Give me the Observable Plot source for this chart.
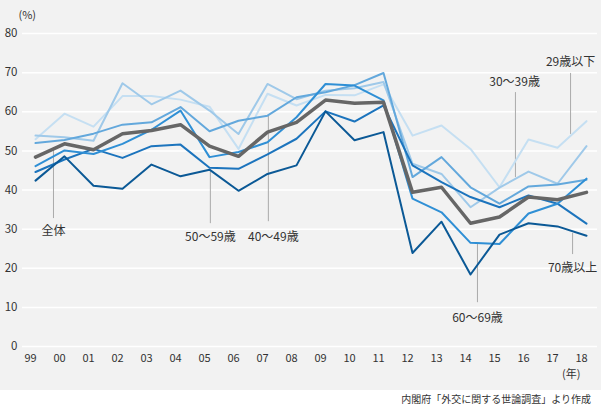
<!DOCTYPE html>
<html><head><meta charset="utf-8">
<script src="https://cdn.jsdelivr.net/npm/d3@7"></script>
<script src="https://cdn.jsdelivr.net/npm/@observablehq/plot@0.6"></script>
<style>
body{margin:0;background:#fff;font-family:"Noto Sans CJK JP","Noto Sans",sans-serif;}
#cap{width:601px;text-align:right;font-size:10px;color:#333;line-height:18px;padding-right:10px;box-sizing:border-box;}
</style></head>
<body><div id="chart"></div><div id="cap">内閣府「外交に関する世論調査」より作成</div>
<script>
const years = ["99","00","01","02","03","04","05","06","07","08","09","10","11","12","13","14","15","16","17","18"];
const seriesNames = ["29歳以下","30〜39歳","40〜49歳","50〜59歳","60〜69歳","70歳以上","全体"];
const seriesColors = ["#c5dff2","#9fc9e9","#63a8dc","#1c74bd","#2f8fd5","#0b5996","#666666"];
const v29 = [53.0,59.5,56.2,64.0,64.0,63.1,61.3,50.5,64.6,61.6,64.3,64.2,67.0,53.9,56.5,50.5,40.7,52.9,50.8,57.6];
const v30 = [53.9,53.5,52.6,67.3,61.9,65.4,60.3,54.3,67.1,63.2,65.4,66.0,67.6,46.7,44.1,35.6,40.6,44.7,41.6,51.2];
const v40 = [52.0,52.8,54.4,56.7,57.3,61.2,55.0,57.7,59.0,63.7,65.0,66.8,69.9,43.3,48.4,40.7,36.5,40.9,41.4,42.6];
const v50 = [44.6,47.8,50.5,48.2,51.2,51.6,45.7,45.4,49.1,53.1,60.1,57.5,61.6,46.3,42.0,38.2,35.6,38.6,36.5,31.4];
const v60 = [46.1,50.1,49.2,51.8,55.4,60.3,48.4,49.7,52.2,58.6,67.1,66.7,62.9,37.8,34.3,26.5,26.2,34.0,36.5,42.9];
const v70 = [42.4,48.6,41.1,40.3,46.5,43.5,45.2,39.8,44.1,46.3,60.1,52.7,54.8,23.9,31.9,18.4,28.6,31.5,30.7,28.3];
const vAll = [48.4,51.8,50.3,54.4,55.2,56.7,51.2,48.6,54.8,57.3,63.0,62.2,62.4,39.4,40.7,31.5,33.1,38.2,37.5,39.4];
const seriesValues = [v29,v30,v40,v50,v60,v70,vAll];
const yTicks = [0,10,20,30,40,50,60,70,80];

// annotations (data units: x = year index, y = percent)
const annLabels = ["全体","50〜59歳","40〜49歳","30〜39歳","29歳以下","70歳以上","60〜69歳"];
const annX      = [0.62, 6.03, 8.03, 16.55, 18.45, 18.52, 15.24];
const annTextX  = [0.62, 6.03, 8.2, 16.52, 18.45, 18.52, 15.24];
const annTop    = [50.1, 44.7, 59.0, 64.9, 54.2, 28.9, 26.3];
const annBottom = [32.7, 31.4, 31.9, 43.2, 69.8, 23.5, 11.2];
const annTextY  = [29.4, 27.9, 27.9, 67.5, 72.6, 19.9, 7.2];

const rows = [];
seriesNames.forEach((s, si) => seriesValues[si].forEach((v, i) => rows.push({s, i, v})));
const anns = annLabels.map((t, k) => ({t, x: annX[k], tx: annTextX[k], y1: annTop[k], y2: annBottom[k], ty: annTextY[k]}));

const blue = seriesNames.slice(0, 6);
const chart = Plot.plot({
  width: 601, height: 390,
  marginLeft: 35, marginRight: 15, marginTop: 33, marginBottom: 44,
  style: {background: "#f2f2f2", fontFamily: '"Noto Sans CJK JP","Noto Sans",sans-serif', color: "#333"},
  x: {domain: [0, 19]},
  y: {domain: [0, 80]},
  color: {domain: seriesNames, range: seriesColors},
  marks: [
    Plot.ruleY(yTicks, {stroke: "#fff", strokeWidth: 1.5, insetLeft: -13, insetRight: -11}),
    Plot.axisY({ticks: yTicks, tickSize: 0, tickPadding: 18, fontSize: 11.5, label: null, fill: "#333"}),
    Plot.axisX({ticks: d3.range(20), tickFormat: i => years[i], tickSize: 0, tickPadding: 8, dx: -5, fontSize: 11, label: null, fill: "#333"}),
    Plot.text(["(%)"], {frameAnchor: "top-left", dx: -17, dy: -22, fontSize: 11, fill: "#333"}),
    Plot.text(["(年)"], {frameAnchor: "bottom-right", dx: -6, dy: 31, fontSize: 11, fill: "#333"}),
    Plot.ruleX(anns, {x: "x", y1: "y1", y2: "y2", stroke: "#aaa", strokeWidth: 1}),
    ...blue.map(n => Plot.line(rows.filter(d => d.s === n), {x: "i", y: "v", stroke: "s", strokeWidth: 2})),
    Plot.line(rows.filter(d => d.s === "全体"), {x: "i", y: "v", stroke: "s", strokeWidth: 3.5}),
    Plot.text(anns, {x: "tx", y: "ty", text: "t", fontSize: 12, fill: "#333", stroke: "#f2f2f2", strokeWidth: 0})
  ]
});
document.getElementById("chart").appendChild(chart);
</script></body></html>
